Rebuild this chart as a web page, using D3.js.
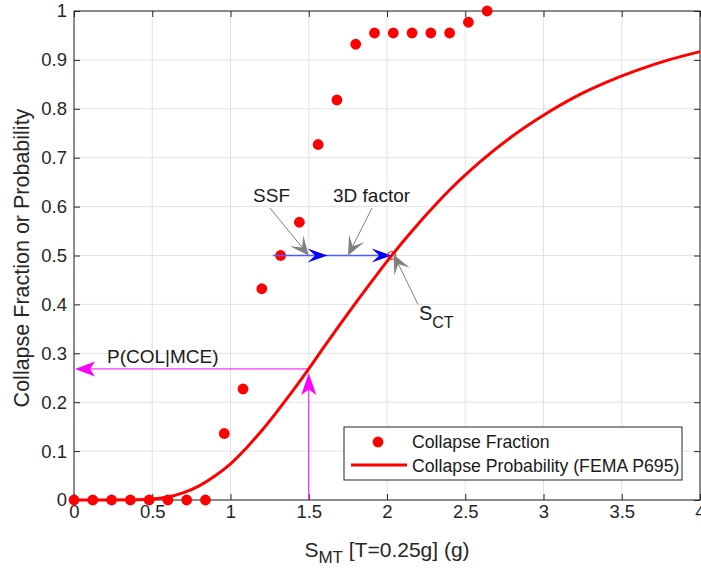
<!DOCTYPE html>
<html>
<head>
<meta charset="utf-8">
<script src="https://cdn.jsdelivr.net/npm/d3@7"></script>
<style>
  body { margin: 0; background: #fff; }
  svg { display: block; font-family: "Liberation Sans", Arial, sans-serif; }
</style>
</head>
<body>
<svg width="701" height="568"></svg>
<script>
// collapse fraction points (IDA record counts / 44)
var fracX = [0, 0.12, 0.24, 0.36, 0.48, 0.6, 0.72, 0.84, 0.96, 1.08, 1.2, 1.32,
             1.44, 1.56, 1.68, 1.8, 1.92, 2.04, 2.16, 2.28, 2.4, 2.52, 2.64];
var fracY = [0, 0, 0, 0, 0, 0, 0, 0, 0.136, 0.227, 0.432, 0.5,
             0.568, 0.727, 0.818, 0.932, 0.955, 0.955, 0.955, 0.955, 0.955, 0.977, 1.0];

// fitted collapse probability curve
var curveX = [0, 0.2, 0.4, 0.5, 0.6, 0.7, 0.8, 0.9, 1.0, 1.1, 1.2, 1.3, 1.4, 1.5,
              1.6, 1.7, 1.8, 1.9, 2.0, 2.2, 2.4, 2.6, 2.8, 3.0, 3.2, 3.4, 3.6, 3.8, 4.0];
var curveY = [0, 0, 0.0005, 0.002, 0.006, 0.015, 0.029, 0.049, 0.074, 0.106, 0.142, 0.182, 0.224, 0.268,
              0.314, 0.359, 0.403, 0.446, 0.488, 0.565, 0.634, 0.693, 0.744, 0.787, 0.824, 0.854, 0.879, 0.900, 0.917];

var xTicks = [0, 0.5, 1, 1.5, 2, 2.5, 3, 3.5, 4];
var yTicks = [0, 0.1, 0.2, 0.3, 0.4, 0.5, 0.6, 0.7, 0.8, 0.9, 1];

var sMCE = 1.5, pMCE = 0.268, sCT = 2.03;
var ssfStart = 1.27, ssfEnd = 1.62;

var svg = d3.select("svg");
var pL = 74, pR = 700, pT = 11, pB = 500;

var x = d3.scaleLinear().domain([0, 4]).range([pL, pR]);
var y = d3.scaleLinear().domain([0, 1]).range([pB, pT]);

var axisColor = "#262626";

// grid
svg.append("g").selectAll("line")
    .data(xTicks).enter().append("line")
    .attr("x1", function(d){return x(d);}).attr("x2", function(d){return x(d);})
    .attr("y1", pT).attr("y2", pB)
    .attr("stroke", "#e3e3e3").attr("stroke-width", 1);
svg.append("g").selectAll("line")
    .data(yTicks).enter().append("line")
    .attr("y1", function(d){return y(d);}).attr("y2", function(d){return y(d);})
    .attr("x1", pL).attr("x2", pR)
    .attr("stroke", "#e3e3e3").attr("stroke-width", 1);

// axes (MATLAB style, ticks inside, box)
var fmt = function(d){ return d3.format("")(d); };
svg.append("g")
    .attr("transform", "translate(0," + pB + ")")
    .call(d3.axisBottom(x).tickValues(xTicks).tickSize(-6).tickPadding(5).tickFormat(fmt))
    .call(function(g){ g.select(".domain").remove(); });
svg.append("g")
    .attr("transform", "translate(" + pL + ",0)")
    .call(d3.axisLeft(y).tickValues(yTicks).tickSize(-6).tickPadding(7).tickFormat(fmt))
    .call(function(g){ g.select(".domain").remove(); });
svg.append("g")
    .attr("transform", "translate(0," + pT + ")")
    .call(d3.axisTop(x).tickValues(xTicks).tickSize(-6).tickFormat(""))
    .call(function(g){ g.select(".domain").remove(); });
svg.append("g")
    .attr("transform", "translate(" + pR + ",0)")
    .call(d3.axisRight(y).tickValues(yTicks).tickSize(-6).tickFormat(""))
    .call(function(g){ g.select(".domain").remove(); });

svg.selectAll(".tick line").attr("stroke", axisColor);
svg.selectAll(".tick text")
    .attr("fill", axisColor)
    .style("font-size", "18.5px")
    .style("font-family", "Liberation Sans, Arial, sans-serif");

svg.append("rect")
    .attr("x", pL).attr("y", pT)
    .attr("width", pR - pL).attr("height", pB - pT)
    .attr("fill", "none").attr("stroke", axisColor).attr("stroke-width", 1);

// arrowhead helper (MATLAB 'vback2' style)
function arrowHead(g, tx, ty, ang, len, hw, notch, color) {
    var c = Math.cos(ang), s = Math.sin(ang);
    function pt(a, b) { return [tx + a * c - b * s, ty + a * s + b * c]; }
    var p = [pt(0, 0), pt(-len, hw), pt(-len * notch, 0), pt(-len, -hw)];
    g.append("path")
        .attr("d", "M" + p.map(function(q){return q[0] + "," + q[1];}).join("L") + "Z")
        .attr("fill", color).attr("stroke", "none");
}
function arrow(g, x1, y1, x2, y2, color, w, len, hw, notch) {
    var ang = Math.atan2(y2 - y1, x2 - x1);
    g.append("line")
        .attr("x1", x1).attr("y1", y1)
        .attr("x2", x2 - Math.cos(ang) * len * notch).attr("y2", y2 - Math.sin(ang) * len * notch)
        .attr("stroke", color).attr("stroke-width", w);
    arrowHead(g, x2, y2, ang, len, hw, notch, color);
}

var ann = svg.append("g");

// P(COL|MCE) magenta arrows
arrow(ann, x(sMCE), y(0), x(sMCE), y(pMCE) + 4, "#ff00ff", 1, 22, 7.5, 0.75);
arrow(ann, x(sMCE), y(pMCE), x(0) + 1, y(pMCE), "#ff00ff", 1, 20, 7.5, 0.75);

// collapse probability curve
var line = d3.line()
    .x(function(d){return x(d[0]);})
    .y(function(d){return y(d[1]);})
    .curve(d3.curveMonotoneX);
svg.append("path")
    .datum(curveX.map(function(d, i){return [d, curveY[i]];}))
    .attr("d", line)
    .attr("fill", "none")
    .attr("stroke", "#ff0000")
    .attr("stroke-width", 3);

// collapse fraction dots
svg.append("g").selectAll("circle")
    .data(fracX.map(function(d, i){return [d, fracY[i]];}))
    .enter().append("circle")
    .attr("cx", function(d){return x(d[0]);})
    .attr("cy", function(d){return y(d[1]);})
    .attr("r", 5.4)
    .attr("fill", "#ff0000");

// SSF and 3D factor blue arrows
var blue = svg.append("g");
blue.append("line")
    .attr("x1", x(ssfStart)).attr("x2", x(sCT) - 10)
    .attr("y1", y(0.5)).attr("y2", y(0.5))
    .attr("stroke", "#4d5cff").attr("stroke-width", 1.5);
arrowHead(blue, x(ssfEnd), y(0.5), 0, 20, 7, 0.62, "#0000ff");
arrowHead(blue, x(sCT), y(0.5), 0, 20, 7, 0.62, "#0000ff");

// S_CT open circle
svg.append("circle")
    .attr("cx", x(sCT)).attr("cy", y(0.5)).attr("r", 4)
    .attr("fill", "none").attr("stroke", "#ff0000").attr("stroke-width", 1);

// gray pointer arrows
var gray = svg.append("g");
arrow(gray, x(1.252), y(0.597), x(1.50), y(0.5), "#808080", 1, 19, 8.5, 0.55);
arrow(gray, x(1.904), y(0.597), x(1.751), y(0.5), "#808080", 1, 19, 8.5, 0.55);
arrow(gray, x(2.198), y(0.40), x(sCT) + 2, y(0.5) - 1, "#808080", 1, 19, 8.5, 0.55);

// annotation text
var txt = svg.append("g").attr("fill", "#1a1a1a").style("font-size", "19px");
txt.append("text").attr("x", x(1.144)).attr("y", y(0.61)).text("SSF");
txt.append("text").attr("x", x(1.655)).attr("y", y(0.61)).text("3D factor");
txt.append("text").attr("x", x(0.211)).attr("y", y(0.281)).text("P(COL|MCE)");
var sct = txt.append("text").attr("x", x(2.204)).attr("y", y(0.368));
sct.append("tspan").style("font-size", "20px").text("S");
sct.append("tspan").attr("dy", 8).style("font-size", "16px").text("CT");

// legend
var lg = svg.append("g");
lg.append("rect")
    .attr("x", 344).attr("y", 427).attr("width", 338).attr("height", 53)
    .attr("fill", "#fff").attr("stroke", axisColor).attr("stroke-width", 1);
lg.append("circle").attr("cx", 378).attr("cy", 442).attr("r", 5.4).attr("fill", "#ff0000");
lg.append("line").attr("x1", 351).attr("x2", 407).attr("y1", 465).attr("y2", 465)
    .attr("stroke", "#ff0000").attr("stroke-width", 3);
lg.append("text").attr("x", 412).attr("y", 448).attr("fill", "#1a1a1a")
    .style("font-size", "17.7px").text("Collapse Fraction");
lg.append("text").attr("x", 412).attr("y", 472).attr("fill", "#1a1a1a")
    .style("font-size", "17.7px").text("Collapse Probability (FEMA P695)");

// axis labels
var xl = svg.append("text")
    .attr("x", 387).attr("y", 557)
    .attr("text-anchor", "middle")
    .attr("fill", axisColor)
    .style("font-size", "21px");
xl.append("tspan").text("S");
xl.append("tspan").attr("dy", 6).style("font-size", "17px").text("MT");
xl.append("tspan").attr("dy", -6).text(" [T=0.25g] (g)");

svg.append("text")
    .attr("transform", "translate(29," + 258 + ") rotate(-90)")
    .attr("text-anchor", "middle")
    .attr("fill", axisColor)
    .style("font-size", "21.5px")
    .text("Collapse Fraction or Probability");
</script>
</body>
</html>
